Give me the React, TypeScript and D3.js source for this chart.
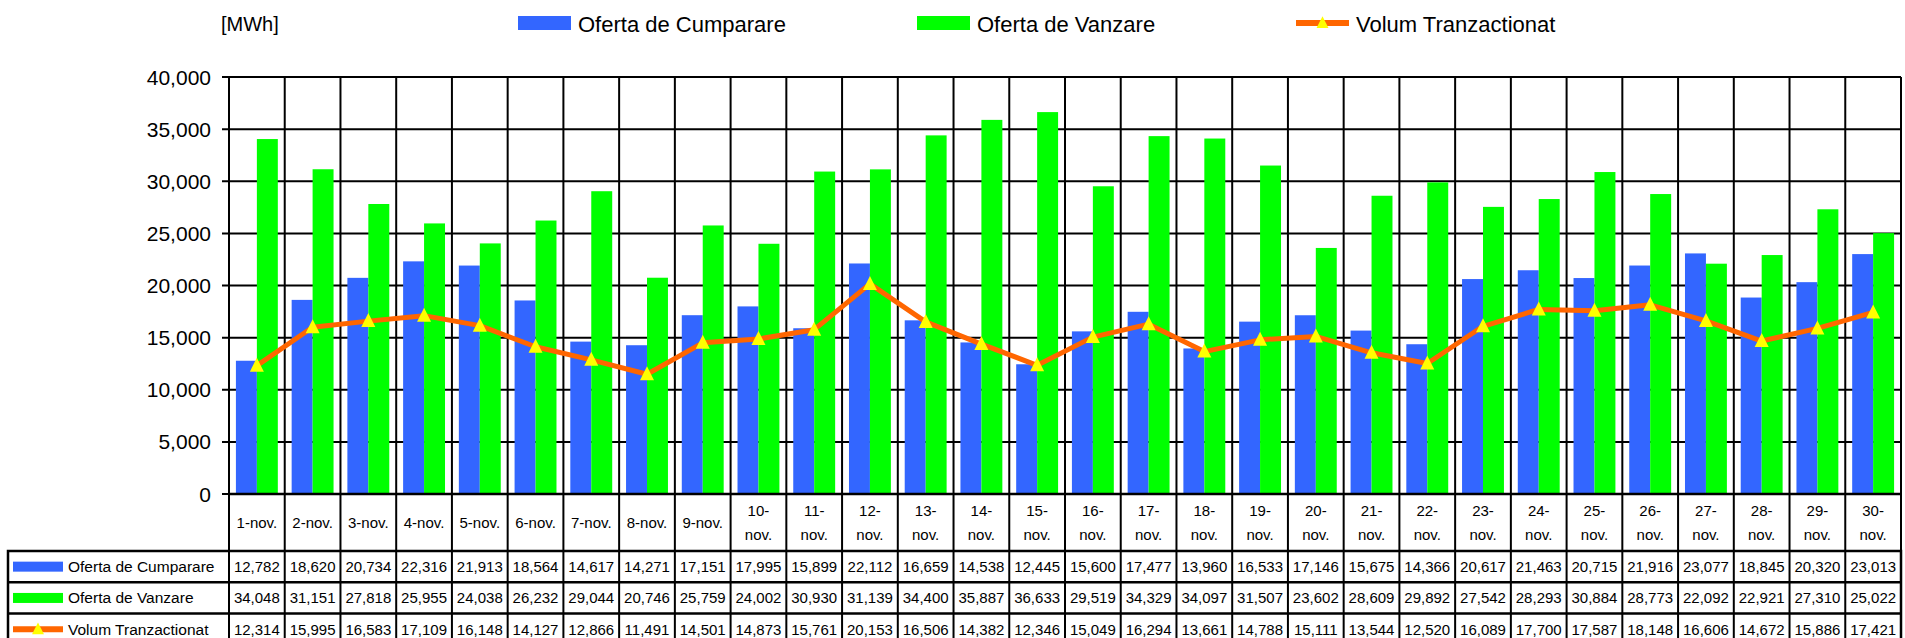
import React from 'react'
import * as d3 from 'd3'

const days = [
  '1-nov.', '2-nov.', '3-nov.', '4-nov.', '5-nov.', '6-nov.', '7-nov.', '8-nov.', '9-nov.', '10-nov.',
  '11-nov.', '12-nov.', '13-nov.', '14-nov.', '15-nov.', '16-nov.', '17-nov.', '18-nov.', '19-nov.', '20-nov.',
  '21-nov.', '22-nov.', '23-nov.', '24-nov.', '25-nov.', '26-nov.', '27-nov.', '28-nov.', '29-nov.', '30-nov.',
]

const ofertaCumparare = [
  12782, 18620, 20734, 22316, 21913, 18564, 14617, 14271, 17151, 17995,
  15899, 22112, 16659, 14538, 12445, 15600, 17477, 13960, 16533, 17146,
  15675, 14366, 20617, 21463, 20715, 21916, 23077, 18845, 20320, 23013,
]

const ofertaVanzare = [
  34048, 31151, 27818, 25955, 24038, 26232, 29044, 20746, 25759, 24002,
  30930, 31139, 34400, 35887, 36633, 29519, 34329, 34097, 31507, 23602,
  28609, 29892, 27542, 28293, 30884, 28773, 22092, 22921, 27310, 25022,
]

const volumTranzactionat = [
  12314, 15995, 16583, 17109, 16148, 14127, 12866, 11491, 14501, 14873,
  15761, 20153, 16506, 14382, 12346, 15049, 16294, 13661, 14788, 15111,
  13544, 12520, 16089, 17700, 17587, 18148, 16606, 14672, 15886, 17421,
]

const yTicks = [0, 5000, 10000, 15000, 20000, 25000, 30000, 35000, 40000]

const seriesNames = ['Oferta de Cumparare', 'Oferta de Vanzare', 'Volum Tranzactionat']

const BLUE = '#3366FF'
const GREEN = '#00FF00'
const ORANGE = '#FF6600'
const YELLOW = '#FFFF00'
const FONT = '"Liberation Sans", Arial, sans-serif'

const triangle = (cx: number, cy: number, s = 1) =>
  `M${cx},${cy - 8 * s}L${cx + 7 * s},${cy + 6 * s}L${cx - 7 * s},${cy + 6 * s}Z`

export default function App() {
  const width = 1905
  const height = 638

  const plotLeft = 229
  const plotRight = 1901
  const plotTop = 77
  const plotBottom = 494
  const catBottom = 551
  const rowH = 31.3
  const tableLeft = 8
  const tableBottom = catBottom + rowH * 3

  const x = d3.scaleBand<string>().domain(days).range([plotLeft, plotRight]).padding(0)
  const xInner = d3.scaleBand<string>()
    .domain(['buy', 'sell'])
    .range([0, x.bandwidth()])
    .paddingInner(0)
    .paddingOuter(0.33)
  const y = d3.scaleLinear().domain([0, 40000]).range([plotBottom, plotTop])
  const fmt = d3.format(',')

  const lineGen = d3.line<number>()
    .x((_, i) => (x(days[i]) as number) + x.bandwidth() / 2)
    .y((d) => y(d))

  const rows = [ofertaCumparare, ofertaVanzare, volumTranzactionat]

  const legendSwatch = (i: number, sx: number, sy: number, w: number, h: number) => {
    if (i === 0) return <rect x={sx} y={sy} width={w} height={h} fill={BLUE} />
    if (i === 1) return <rect x={sx} y={sy} width={w} height={h} fill={GREEN} />
    const cy = sy + h / 2
    return (
      <g>
        <line x1={sx} x2={sx + w} y1={cy} y2={cy} stroke={ORANGE} strokeWidth={6} />
        <path d={triangle(sx + w / 2, cy, 0.85)} fill={YELLOW} />
      </g>
    )
  }

  return (
    <svg
      width={width}
      height={height}
      style={{ position: 'absolute', left: 0, top: 0, background: '#fff' }}
      fontFamily={FONT}
    >
      {/* top legend */}
      <text x={221} y={31} fontSize={20} fill="#000">[MWh]</text>
      {[518, 917, 1296].map((lx, i) => (
        <g key={seriesNames[i]}>
          {legendSwatch(i, lx, 16, 53, 14)}
          <text x={lx + 60} y={31.5} fontSize={22} fill="#000">{seriesNames[i]}</text>
        </g>
      ))}

      {/* horizontal gridlines + y axis */}
      {yTicks.map((t) => (
        <g key={t}>
          <line x1={plotLeft - 7} x2={plotRight} y1={y(t)} y2={y(t)} stroke="#000" strokeWidth={2} />
          <text x={211} y={y(t) + 7.5} fontSize={21} textAnchor="end" fill="#000">{fmt(t)}</text>
        </g>
      ))}

      {/* bars */}
      {days.map((d, i) => (
        <g key={d} transform={`translate(${x(d)},0)`}>
          <rect
            x={xInner('buy')}
            y={y(ofertaCumparare[i])}
            width={xInner.bandwidth()}
            height={plotBottom - y(ofertaCumparare[i])}
            fill={BLUE}
          />
          <rect
            x={xInner('sell')}
            y={y(ofertaVanzare[i])}
            width={xInner.bandwidth()}
            height={plotBottom - y(ofertaVanzare[i])}
            fill={GREEN}
          />
        </g>
      ))}

      {/* vertical column lines through plot and table */}
      {[...days.map((d) => x(d) as number), plotRight].map((vx, i) => (
        <line key={i} x1={vx} x2={vx} y1={plotTop} y2={tableBottom} stroke="#000" strokeWidth={2} />
      ))}
      <line x1={plotLeft} x2={plotRight} y1={plotBottom} y2={plotBottom} stroke="#000" strokeWidth={2.5} />

      {/* volume line */}
      <path d={lineGen(volumTranzactionat) || ''} fill="none" stroke={ORANGE} strokeWidth={5} strokeLinejoin="round" />
      {volumTranzactionat.map((v, i) => (
        <path key={i} d={triangle((x(days[i]) as number) + x.bandwidth() / 2, y(v))} fill={YELLOW} />
      ))}

      {/* category labels */}
      {days.map((d) => {
        const cx = (x(d) as number) + x.bandwidth() / 2
        if (d.length <= 6) {
          return <text key={d} x={cx} y={528} fontSize={15} textAnchor="middle" fill="#000">{d}</text>
        }
        const [num, mon] = d.split('-')
        return (
          <g key={d}>
            <text x={cx} y={516} fontSize={15} textAnchor="middle" fill="#000">{num}-</text>
            <text x={cx} y={540} fontSize={15} textAnchor="middle" fill="#000">{mon}</text>
          </g>
        )
      })}

      {/* data table */}
      <rect x={tableLeft} y={catBottom} width={plotRight - tableLeft} height={rowH * 3} fill="none" stroke="#000" strokeWidth={2.5} />
      {[1, 2].map((r) => (
        <line key={r} x1={tableLeft} x2={plotRight} y1={catBottom + rowH * r} y2={catBottom + rowH * r} stroke="#000" strokeWidth={2.5} />
      ))}
      {rows.map((vals, r) => {
        const cy = catBottom + rowH * r + rowH / 2
        return (
          <g key={seriesNames[r]}>
            {legendSwatch(r, 13, cy - 5, 50, 10)}
            <text x={68} y={cy + 5.5} fontSize={15.5} fill="#000">{seriesNames[r]}</text>
            {vals.map((v, i) => (
              <text
                key={i}
                x={(x(days[i]) as number) + x.bandwidth() / 2}
                y={cy + 5.5}
                fontSize={15}
                textAnchor="middle"
                fill="#000"
              >
                {fmt(v)}
              </text>
            ))}
          </g>
        )
      })}
    </svg>
  )
}
